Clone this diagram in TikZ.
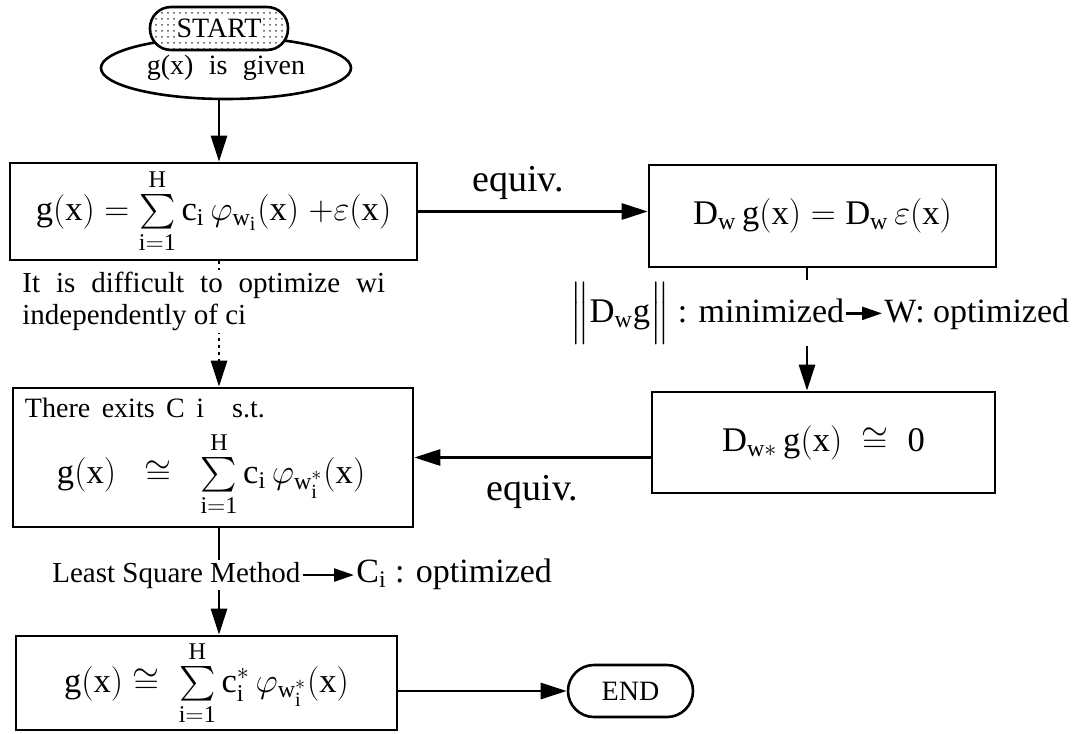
\documentclass[tikz,border=0pt]{standalone}
\usepackage{amsmath}
\usepackage{fontspec}
\setmainfont{Liberation Serif}
\newfontfamily\widefont[WordSpace=2.2]{Liberation Serif}
\usetikzlibrary{arrows.meta,positioning,shapes.geometric,patterns,backgrounds}

\begin{document}
\begin{tikzpicture}[
  x=0.5pt, y=-0.5pt,
  box/.style={draw, line width=1.3pt, inner sep=2pt, font=\LARGE},
  term/.style={draw, line width=1.3pt, inner sep=1pt, font=\fontsize{14}{16}\selectfont},
  note/.style={fill=white, inner sep=1pt, font=\fontsize{14.5}{16}\selectfont},
  tag/.style={fill=white, inner sep=1pt, font=\fontsize{17}{20}\selectfont},
  lbl/.style={inner sep=0pt, font=\fontsize{19}{22}\selectfont},
  arr/.style={-{Triangle[length=13pt,width=8pt]}, line width=1.4pt},
  sarr/.style={-{Triangle[length=10pt,width=6.5pt]}, line width=1.2pt}
]
\useasboundingbox (0,0) rectangle (1079,733);

\node[term, ellipse, minimum width=125pt, minimum height=31pt] (given) at (226,68) {\widefont g(x) is given};
\node[term, rounded corners=10.5pt, minimum width=69pt, minimum height=21.5pt,
  preaction={fill=white}, pattern=dots, pattern color=black!70] (start) at (219,28.5)
  {\fboxsep=1pt\colorbox{white}{START}};

\node[box, minimum width=203.5pt, minimum height=48.5pt] (gsum) at (213.5,211.5)
  {$\mathrm{g(x)} = \textstyle\sum\limits_{\mathrm{i=1}}^{\mathrm{H}} \mathrm{c_i}\,\varphi_{\mathrm{w_i}}(\mathrm{x})\; {+}\varepsilon(\mathrm{x})$};
\node[box, minimum width=173.5pt, minimum height=51pt] (dweq) at (822.5,216)
  {$\mathrm{D_w\,g(x)} = \mathrm{D_w}\,\varepsilon(\mathrm{x})$};
\node[box, minimum width=171.5pt, minimum height=50.5pt] (dwzero) at (823.5,442.5)
  {$\mathrm{D_{w\ast}\,g(x)} \;\cong\; \mathrm{0}$};
\node[box, minimum width=200pt, minimum height=69.5pt, text width=188pt, inner xsep=6pt, align=left] (exist) at (213,457.5)
  {{\fontsize{14}{16}\selectfont There exits C i\quad s.t.}\\[6pt]
   \mbox{\hspace*{16pt}$\mathrm{g(x)} \;\;\cong\;\; \textstyle\sum\limits_{\mathrm{i=1}}^{\mathrm{H}} \mathrm{c_i}\,\varphi_{\mathrm{w_i^{\ast}}}(\mathrm{x})$}};
\node[box, minimum width=190.5pt, minimum height=47pt] (final) at (206.5,683)
  {$\mathrm{g(x)} \cong\; \textstyle\sum\limits_{\mathrm{i=1}}^{\mathrm{H}} \mathrm{c_i^{\ast}}\,\varphi_{\mathrm{w_i^{\ast}}}(\mathrm{x})$};
\node[term, rounded corners=13pt, minimum width=62.5pt, minimum height=26pt] (end) at (630.5,691) {END};

\node[note, align=left, anchor=north west] (hard) at (20,270)
  {\widefont It is difficult to optimize wi\\independently of ci};
\node[tag, anchor=base west] (minl) at (568,322) {{\LARGE$\Big\|\mathrm{D_w g}\Big\|$} : minimized};
\node[tag, anchor=base west] (wopt) at (882,322) {W: optimized};
\node[note, anchor=base west] (lsm) at (50,582) {Least Square Method};
\node[tag, anchor=base west] (copt) at (354,582) {C$_\mathrm{i}$ : optimized};

\begin{scope}[on background layer]
\coordinate (vx) at (807,0);
\draw[arr] (given.south -| start.center) -- (gsum.north -| start.center);
\draw[arr] (gsum.east) -- node[lbl, above=5.5pt, pos=0.435] (eqa) {equiv.} (gsum.east -| dweq.west);
\draw[arr] (dweq.south -| vx) -- (dwzero.north -| vx);
\draw[arr] (dwzero.west |- exist.east) -- node[lbl, below=8pt] (eqb) {equiv.} (exist.east);
\draw[arr, dash pattern=on 1.5pt off 2pt] (gsum.south -| start.center) -- (exist.north -| start.center);
\draw[arr] (exist.south -| start.center) -- (final.north -| start.center);
\draw[arr] (final.east |- end.west) -- (end.west);
\end{scope}
\draw[sarr] (minl.east) -- (minl.east -| wopt.west);
\draw[sarr] (lsm.east) -- (lsm.east -| copt.west);
\end{tikzpicture}
\end{document}
